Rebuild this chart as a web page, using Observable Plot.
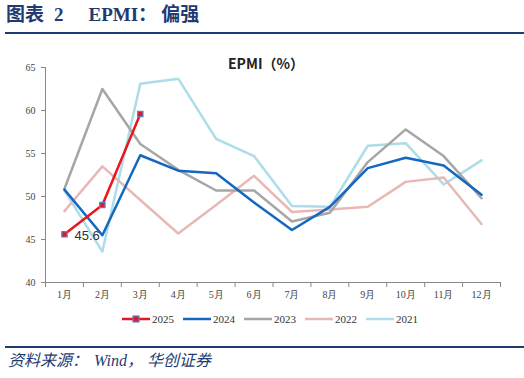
<!DOCTYPE html>
<html><head><meta charset="utf-8">
<script src="https://cdn.jsdelivr.net/npm/d3@7"></script>
<script src="https://cdn.jsdelivr.net/npm/@observablehq/plot@0.6"></script>
<style>
body{margin:0;background:#fff;width:524px;height:378px;position:relative;overflow:hidden;}
#title{position:absolute;left:6px;top:4px;font-size:19px;font-weight:bold;color:#1F3B73;font-family:"Liberation Serif","Noto Sans CJK SC",serif;white-space:pre;line-height:22px;}
.rule{position:absolute;left:5px;right:0;height:2px;background:#1F3B73;}
#chart{position:absolute;left:0;top:40px;}
#ctitle{position:absolute;left:228px;top:54px;font:bold 14px "Noto Sans CJK SC",sans-serif;color:#222;line-height:18px;}
.leg{position:absolute;top:312px;height:14px;}
.leg span{position:absolute;top:0;font:11px "Liberation Serif",serif;color:#333;line-height:14px;}
#caption{position:absolute;left:8px;top:351px;font-size:16px;font-style:italic;color:#1F3B73;font-family:"Liberation Serif","Noto Sans CJK SC",serif;line-height:20px;white-space:pre;}
</style></head>
<body>
<div id="title">图表<span style="margin-left:10px">2</span><span style="margin-left:25px">EPMI：</span><span style="margin-left:4px">偏强</span></div>
<div class="rule" style="top:32px"></div>
<div id="chart"></div>
<div id="ctitle">EPMI（%）</div>
<div id="legend"></div>
<div class="rule" style="top:346px"></div>
<div id="caption">资料来源：<span style="margin-left:6px">Wind，</span><span style="margin-left:4px">华创证券</span></div>
<script>
const months = ["1月","2月","3月","4月","5月","6月","7月","8月","9月","10月","11月","12月"];
const years = ["2025","2024","2023","2022","2021"];
const v2025 = [45.6, 49.0, 59.6];
const v2024 = [50.8, 45.5, 54.8, 53.0, 52.7, 49.3, 46.1, 48.8, 53.3, 54.5, 53.6, 50.2];
const v2023 = [50.9, 62.5, 56.1, 53.1, 50.7, 50.7, 47.1, 48.1, 54.0, 57.8, 54.7, 49.8];
const v2022 = [48.3, 53.5, 49.6, 45.7, 49.0, 52.4, 48.2, 48.5, 48.8, 51.7, 52.2, 46.8];
const v2021 = [50.7, 43.6, 63.1, 63.7, 56.7, 54.7, 48.9, 48.8, 55.9, 56.2, 51.4, 54.2];
const yTicks = [40, 45, 50, 55, 60, 65];
const labelValue = "45.6";

const colors = {"2025":"#E8161E","2024":"#1468C0","2023":"#A6A6A6","2022":"#E8B8B6","2021":"#ADDCEA"};
const series = {"2025":v2025,"2024":v2024,"2023":v2023,"2022":v2022,"2021":v2021};
const rows = [];
for (const y of years) series[y].forEach((v,i)=>rows.push({year:y, m:i+1, v}));
const drawOrder = ["2021","2022","2023","2024","2025"];
const boundaries = d3.range(0.5, 13, 1);

const plot = Plot.plot({
  width: 524, height: 300,
  marginTop: 27, marginBottom: 58, marginLeft: 45, marginRight: 24,
  style: {background: "transparent", fontFamily: "Liberation Serif, serif", fontSize: "10px", color: "#444"},
  x: {domain: [0.5, 12.5], axis: null},
  y: {domain: [40, 65], axis: null},
  marks: [
    Plot.axisY({ticks: yTicks, tickSize: 4, tickPadding: 6, tickFormat: d=>d, label: null, stroke:"#888", fill:"#444", fontSize: 10}),
    Plot.ruleX([0.5], {stroke:"#888"}),
    Plot.ruleY([40], {stroke:"#888"}),
    Plot.axisX({ticks: boundaries, tickSize: 5, tickFormat: ()=>"", label: null, stroke:"#888"}),
    Plot.axisX({ticks: d3.range(1,13), tickSize: 0, tickPadding: 8, tickFormat: d=>months[d-1], label: null, fill:"#444", fontSize: 10}),
    ...drawOrder.map(y => Plot.line(rows.filter(r=>r.year===y), {x:"m", y:"v", stroke: colors[y], strokeWidth: 2.5, curve: "linear"})),
    Plot.dot(rows.filter(r=>r.year==="2025"), {x:"m", y:"v", symbol:"square", r: 3, fill:"#E8161E", stroke:"#5B7FD0", strokeWidth: 1.2}),
    Plot.text(rows.filter(r=>r.year==="2025" && r.m===1), {x:"m", y:"v", text: ()=>labelValue, dx: 10, dy: 1, textAnchor:"start", fontSize: 13, fill:"#333", fontFamily:"Liberation Sans, sans-serif"})
  ]
});
document.getElementById("chart").appendChild(plot);

const legX = {"2025":122,"2024":183,"2023":244,"2022":305,"2021":366};
const legend = document.getElementById("legend");
for (const y of years) {
  const d = document.createElement("div");
  d.className = "leg";
  d.style.left = legX[y] + "px";
  const marker = y==="2025" ? `<rect x="11" y="4" width="6" height="6" fill="#E8161E" stroke="#5B7FD0" stroke-width="1.2"/>` : "";
  d.innerHTML = `<svg width="28" height="14" style="position:absolute;left:0;top:0"><line x1="0" y1="7" x2="28" y2="7" stroke="${colors[y]}" stroke-width="2.5"/>${marker}</svg><span style="left:30px">${y}</span>`;
  legend.appendChild(d);
}
</script>
</body></html>
